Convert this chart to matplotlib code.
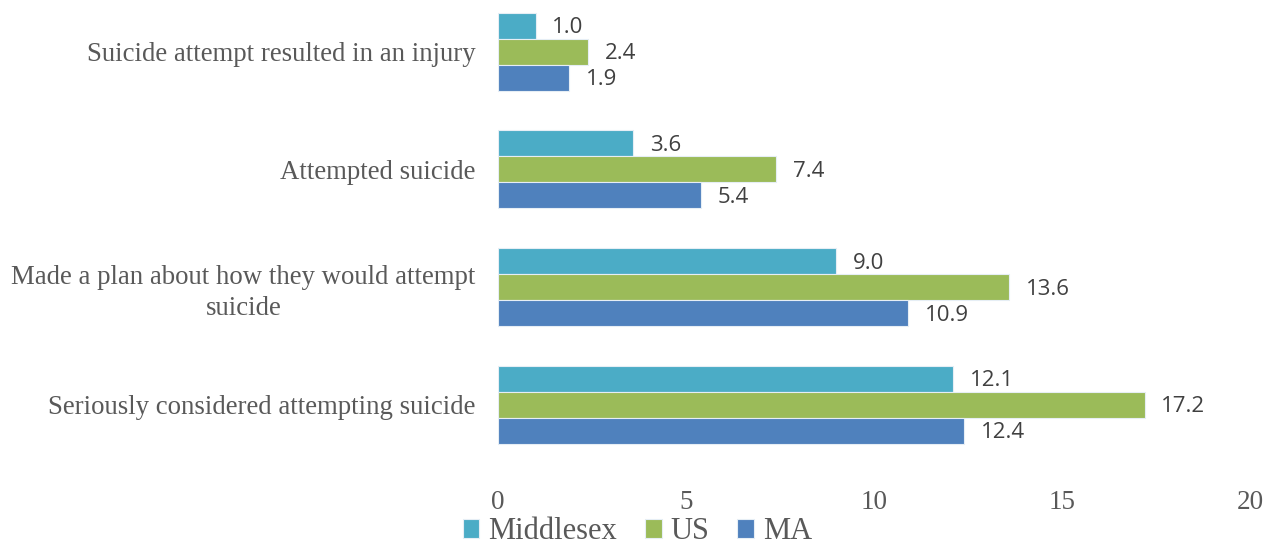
import numpy as np
import matplotlib
matplotlib.use("Agg")
import matplotlib.pyplot as plt

# Categories listed top to bottom as they appear on the chart
categories = [
    "Suicide attempt resulted in an injury",
    "Attempted suicide",
    "Made a plan about how they would attempt\nsuicide",
    "Seriously considered attempting suicide",
]
middlesex = [1.0, 3.6, 9.0, 12.1]
us = [2.4, 7.4, 13.6, 17.2]
ma = [1.9, 5.4, 10.9, 12.4]

series_names = ["Middlesex", "US", "MA"]
series_colors = ["#4BACC6", "#9BBB59", "#4F81BD"]
x_ticks = [0, 5, 10, 15, 20]

serif = ["Liberation Serif", "DejaVu Serif"]
label_font = ["Open Sans", "DejaVu Sans"]
text_gray = "#595959"
value_gray = "#404040"

fig = plt.figure(figsize=(12.8, 5.46), dpi=100)
ax = fig.add_axes([498 / 1280, 1 - 463.5 / 546, 752 / 1280, 463.5 / 546])

n = len(categories)
y = np.arange(n)[::-1]  # first category at the top
h = 0.221
offsets = [h, 0.0, -h]
all_series = [middlesex, us, ma]

bars = []
for vals, off, color, name in zip(all_series, offsets, series_colors, series_names):
    b = ax.barh(y + off, vals, height=h, color=color, edgecolor="#E6EEF5",
                linewidth=0.8, label=name)
    bars.append(b)
    for yi, v in zip(y + off, vals):
        ax.annotate(f"{v:.1f}", xy=(v, yi), xytext=(12, -1.5),
                    textcoords="offset points", ha="left", va="center",
                    fontsize=16, family=label_font, color=value_gray)

ax.set_xlim(0, 20)
ax.set_ylim(-0.5, 3.44)
ax.set_xticks(x_ticks)
ax.set_xticklabels([str(t) for t in x_ticks], family=serif, fontsize=19.5,
                   color=text_gray)
ax.set_yticks(y)
ax.set_yticklabels(categories, family=serif, fontsize=19.3, color=text_gray,
                   multialignment="center", linespacing=1.3)
ax.tick_params(axis="both", length=0)
ax.tick_params(axis="y", pad=16)
ax.tick_params(axis="x", pad=19)
for s in ax.spines.values():
    s.set_visible(False)

leg = fig.legend(handles=bars, labels=series_names, loc="center",
                 bbox_to_anchor=(0.498, 0.026), ncol=3, frameon=False,
                 prop={"family": serif, "size": 22}, handlelength=0.55,
                 handleheight=0.55, handletextpad=0.3, columnspacing=0.9,
                 borderpad=0.0, borderaxespad=0)
for t in leg.get_texts():
    t.set_color(text_gray)

fig.savefig("out.png", dpi=100)
